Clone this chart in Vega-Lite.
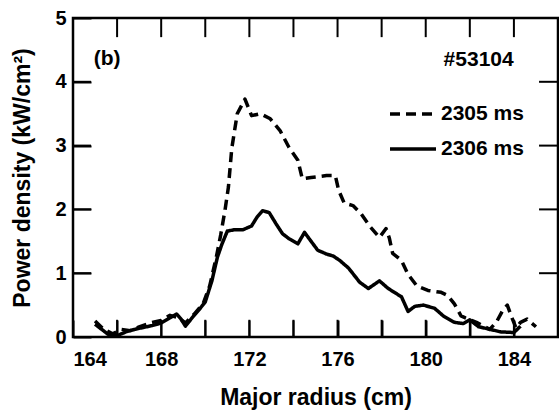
{
  "$schema": "https://vega.github.io/schema/vega-lite/v6.json",
  "autosize": "none",
  "width": 485,
  "height": 319,
  "padding": {"left": 73, "top": 18, "right": 1, "bottom": 74},
  "background": "white",
  "config": {
    "view": {"stroke": "black", "strokeWidth": 2.5},
    "font": "Liberation Sans",
    "axis": {
      "grid": false,
      "domain": false,
      "labelColor": "black",
      "labelFont": "Liberation Sans",
      "labelFontSize": 20,
      "labelFontWeight": "bold",
      "titleColor": "black",
      "titleFont": "Liberation Sans",
      "titleFontSize": 23,
      "titleFontWeight": "bold"
    }
  },
  "datasets": {
    "curves": [
      {"series": "2306 ms", "radius": 165.0, "power": 0.2},
      {"series": "2306 ms", "radius": 165.3, "power": 0.12},
      {"series": "2306 ms", "radius": 165.6, "power": 0.04},
      {"series": "2306 ms", "radius": 166.0, "power": 0.02},
      {"series": "2306 ms", "radius": 166.4, "power": 0.08},
      {"series": "2306 ms", "radius": 166.8, "power": 0.12},
      {"series": "2306 ms", "radius": 167.2, "power": 0.15},
      {"series": "2306 ms", "radius": 167.6, "power": 0.18},
      {"series": "2306 ms", "radius": 168.0, "power": 0.22},
      {"series": "2306 ms", "radius": 168.4, "power": 0.3},
      {"series": "2306 ms", "radius": 168.7, "power": 0.36},
      {"series": "2306 ms", "radius": 168.9, "power": 0.28},
      {"series": "2306 ms", "radius": 169.1, "power": 0.17},
      {"series": "2306 ms", "radius": 169.4, "power": 0.3},
      {"series": "2306 ms", "radius": 169.7, "power": 0.42},
      {"series": "2306 ms", "radius": 170.0, "power": 0.55},
      {"series": "2306 ms", "radius": 170.3, "power": 0.88},
      {"series": "2306 ms", "radius": 170.55, "power": 1.25},
      {"series": "2306 ms", "radius": 170.75, "power": 1.45},
      {"series": "2306 ms", "radius": 171.0, "power": 1.66},
      {"series": "2306 ms", "radius": 171.3, "power": 1.68},
      {"series": "2306 ms", "radius": 171.7, "power": 1.68},
      {"series": "2306 ms", "radius": 172.1, "power": 1.74},
      {"series": "2306 ms", "radius": 172.35, "power": 1.88},
      {"series": "2306 ms", "radius": 172.6, "power": 1.98},
      {"series": "2306 ms", "radius": 172.9, "power": 1.95},
      {"series": "2306 ms", "radius": 173.2, "power": 1.78},
      {"series": "2306 ms", "radius": 173.5, "power": 1.62},
      {"series": "2306 ms", "radius": 173.8, "power": 1.54},
      {"series": "2306 ms", "radius": 174.2, "power": 1.46},
      {"series": "2306 ms", "radius": 174.5, "power": 1.64},
      {"series": "2306 ms", "radius": 174.8, "power": 1.5},
      {"series": "2306 ms", "radius": 175.1, "power": 1.36},
      {"series": "2306 ms", "radius": 175.5, "power": 1.3},
      {"series": "2306 ms", "radius": 175.8, "power": 1.27},
      {"series": "2306 ms", "radius": 176.1, "power": 1.2},
      {"series": "2306 ms", "radius": 176.5, "power": 1.08},
      {"series": "2306 ms", "radius": 177.0, "power": 0.86},
      {"series": "2306 ms", "radius": 177.4, "power": 0.76},
      {"series": "2306 ms", "radius": 177.9, "power": 0.88},
      {"series": "2306 ms", "radius": 178.3, "power": 0.76},
      {"series": "2306 ms", "radius": 178.9, "power": 0.63},
      {"series": "2306 ms", "radius": 179.2, "power": 0.4},
      {"series": "2306 ms", "radius": 179.5, "power": 0.48},
      {"series": "2306 ms", "radius": 179.9, "power": 0.5},
      {"series": "2306 ms", "radius": 180.4, "power": 0.45},
      {"series": "2306 ms", "radius": 180.8, "power": 0.33},
      {"series": "2306 ms", "radius": 181.3, "power": 0.23},
      {"series": "2306 ms", "radius": 181.7, "power": 0.21},
      {"series": "2306 ms", "radius": 182.0, "power": 0.27},
      {"series": "2306 ms", "radius": 182.4, "power": 0.16},
      {"series": "2306 ms", "radius": 182.8, "power": 0.13},
      {"series": "2306 ms", "radius": 183.4, "power": 0.08},
      {"series": "2306 ms", "radius": 184.0, "power": 0.07},
      {"series": "2306 ms", "radius": 184.3, "power": 0.17},
      {"series": "2305 ms", "radius": 165.0, "power": 0.25},
      {"series": "2305 ms", "radius": 165.4, "power": 0.12},
      {"series": "2305 ms", "radius": 165.8, "power": 0.05},
      {"series": "2305 ms", "radius": 166.2, "power": 0.12},
      {"series": "2305 ms", "radius": 166.6, "power": 0.1},
      {"series": "2305 ms", "radius": 167.0, "power": 0.16},
      {"series": "2305 ms", "radius": 167.5, "power": 0.22},
      {"series": "2305 ms", "radius": 168.0, "power": 0.26},
      {"series": "2305 ms", "radius": 168.4, "power": 0.34},
      {"series": "2305 ms", "radius": 168.8, "power": 0.3},
      {"series": "2305 ms", "radius": 169.1, "power": 0.22},
      {"series": "2305 ms", "radius": 169.5, "power": 0.36},
      {"series": "2305 ms", "radius": 169.9, "power": 0.52},
      {"series": "2305 ms", "radius": 170.2, "power": 0.8},
      {"series": "2305 ms", "radius": 170.5, "power": 1.25},
      {"series": "2305 ms", "radius": 170.7, "power": 1.6},
      {"series": "2305 ms", "radius": 170.9, "power": 2.0},
      {"series": "2305 ms", "radius": 171.05, "power": 2.35},
      {"series": "2305 ms", "radius": 171.2, "power": 2.95},
      {"series": "2305 ms", "radius": 171.45, "power": 3.5},
      {"series": "2305 ms", "radius": 171.8, "power": 3.73},
      {"series": "2305 ms", "radius": 172.1, "power": 3.47},
      {"series": "2305 ms", "radius": 172.5, "power": 3.5},
      {"series": "2305 ms", "radius": 172.95, "power": 3.42},
      {"series": "2305 ms", "radius": 173.4, "power": 3.23},
      {"series": "2305 ms", "radius": 173.8, "power": 2.97},
      {"series": "2305 ms", "radius": 174.2, "power": 2.77},
      {"series": "2305 ms", "radius": 174.4, "power": 2.48},
      {"series": "2305 ms", "radius": 174.8, "power": 2.5},
      {"series": "2305 ms", "radius": 175.5, "power": 2.53},
      {"series": "2305 ms", "radius": 175.9, "power": 2.53},
      {"series": "2305 ms", "radius": 176.05, "power": 2.3},
      {"series": "2305 ms", "radius": 176.3, "power": 2.1},
      {"series": "2305 ms", "radius": 176.7, "power": 2.06},
      {"series": "2305 ms", "radius": 177.05, "power": 1.94},
      {"series": "2305 ms", "radius": 177.5, "power": 1.72},
      {"series": "2305 ms", "radius": 177.9, "power": 1.56},
      {"series": "2305 ms", "radius": 178.2, "power": 1.7},
      {"series": "2305 ms", "radius": 178.35, "power": 1.55},
      {"series": "2305 ms", "radius": 178.5, "power": 1.31},
      {"series": "2305 ms", "radius": 178.9, "power": 1.2},
      {"series": "2305 ms", "radius": 179.2, "power": 0.98},
      {"series": "2305 ms", "radius": 179.6, "power": 0.8},
      {"series": "2305 ms", "radius": 180.1, "power": 0.73},
      {"series": "2305 ms", "radius": 180.7, "power": 0.7},
      {"series": "2305 ms", "radius": 181.0, "power": 0.65},
      {"series": "2305 ms", "radius": 181.3, "power": 0.52},
      {"series": "2305 ms", "radius": 181.6, "power": 0.33},
      {"series": "2305 ms", "radius": 181.8, "power": 0.3},
      {"series": "2305 ms", "radius": 182.3, "power": 0.23},
      {"series": "2305 ms", "radius": 182.9, "power": 0.12},
      {"series": "2305 ms", "radius": 183.2, "power": 0.23},
      {"series": "2305 ms", "radius": 183.5, "power": 0.42},
      {"series": "2305 ms", "radius": 183.7, "power": 0.5},
      {"series": "2305 ms", "radius": 183.9, "power": 0.31},
      {"series": "2305 ms", "radius": 184.1, "power": 0.14},
      {"series": "2305 ms", "radius": 184.3, "power": 0.23},
      {"series": "2305 ms", "radius": 184.6, "power": 0.28},
      {"series": "2305 ms", "radius": 185.0, "power": 0.16}
    ],
    "notes": [
      {"label": "(b)", "radius": 165.55, "power": 4.36},
      {"label": "#53104", "radius": 182.4, "power": 4.34}
    ],
    "xticks": [
      {"radius": 166}, {"radius": 168}, {"radius": 170}, {"radius": 172}, {"radius": 174},
      {"radius": 176}, {"radius": 178}, {"radius": 180}, {"radius": 182}, {"radius": 184}
    ],
    "yticks": [
      {"power": 1}, {"power": 2}, {"power": 3}, {"power": 4}
    ]
  },
  "layer": [
    {
      "data": {"name": "curves"},
      "mark": {"type": "line", "strokeWidth": 3.5, "color": "black", "strokeJoin": "round"},
      "encoding": {
        "x": {
          "field": "radius", "type": "quantitative",
          "scale": {"domain": [164, 186], "nice": false, "zero": false},
          "axis": {
            "orient": "bottom",
            "offset": -17,
            "zindex": 3,
            "ticks": true,
            "tickSize": 17,
            "tickWidth": 2,
            "tickColor": "#000000",
            "values": [164, 166, 168, 170, 172, 174, 176, 178, 180, 182, 184],
            "labelExpr": "datum.value % 4 == 0 ? datum.label : ''",
            "labelPadding": 12,
            "title": "Major radius (cm)",
            "titlePadding": 17
          }
        },
        "y": {
          "field": "power", "type": "quantitative",
          "scale": {"domain": [0, 5], "nice": false},
          "axis": {
            "orient": "left",
            "offset": -18,
            "zindex": 3,
            "ticks": true,
            "tickSize": 18,
            "tickWidth": 2,
            "tickColor": "#000000",
            "values": [0, 1, 2, 3, 4, 5],
            "labelPadding": 7,
            "title": "Power density (kW/cm²)",
            "titlePadding": 20
          }
        },
        "strokeDash": {
          "field": "series", "type": "nominal",
          "scale": {"domain": ["2305 ms", "2306 ms"], "range": [[10, 6], [1, 0]]},
          "legend": {
            "orient": "none",
            "legendX": 315,
            "legendY": 71,
            "title": null,
            "symbolType": "stroke",
            "symbolSize": 2116,
            "symbolStrokeWidth": 3.5,
            "symbolStrokeColor": "black",
            "labelFont": "Liberation Sans",
            "labelFontSize": 21,
            "labelFontWeight": "bold",
            "labelColor": "black",
            "labelOffset": 3,
            "rowPadding": -6
          }
        }
      }
    },
    {
      "data": {"name": "xticks"},
      "mark": {"type": "rule", "strokeWidth": 2, "color": "black"},
      "encoding": {
        "x": {"field": "radius", "type": "quantitative", "axis": null},
        "y": {"datum": 0, "type": "quantitative", "axis": null},
        "y2": {"datum": 0.27}
      }
    },
    {
      "data": {"name": "xticks"},
      "mark": {"type": "rule", "strokeWidth": 2, "color": "black"},
      "encoding": {
        "x": {"field": "radius", "type": "quantitative", "axis": null},
        "y": {"datum": 5, "type": "quantitative", "axis": null},
        "y2": {"datum": 4.7}
      }
    },
    {
      "data": {"name": "yticks"},
      "mark": {"type": "rule", "strokeWidth": 2, "color": "black"},
      "encoding": {
        "y": {"field": "power", "type": "quantitative", "axis": null},
        "x": {"datum": 164, "type": "quantitative", "axis": null},
        "x2": {"datum": 164.82}
      }
    },
    {
      "data": {"name": "yticks"},
      "mark": {"type": "rule", "strokeWidth": 2, "color": "black"},
      "encoding": {
        "y": {"field": "power", "type": "quantitative", "axis": null},
        "x": {"datum": 186, "type": "quantitative", "axis": null},
        "x2": {"datum": 185.14}
      }
    },
    {
      "data": {"name": "notes"},
      "mark": {"type": "text", "font": "Liberation Sans", "fontSize": 21, "fontWeight": "bold", "color": "black"},
      "encoding": {
        "x": {"field": "radius", "type": "quantitative", "axis": null},
        "y": {"field": "power", "type": "quantitative", "axis": null},
        "text": {"field": "label"}
      }
    }
  ],
  "resolve": {"axis": {"x": "independent", "y": "independent"}}
}
